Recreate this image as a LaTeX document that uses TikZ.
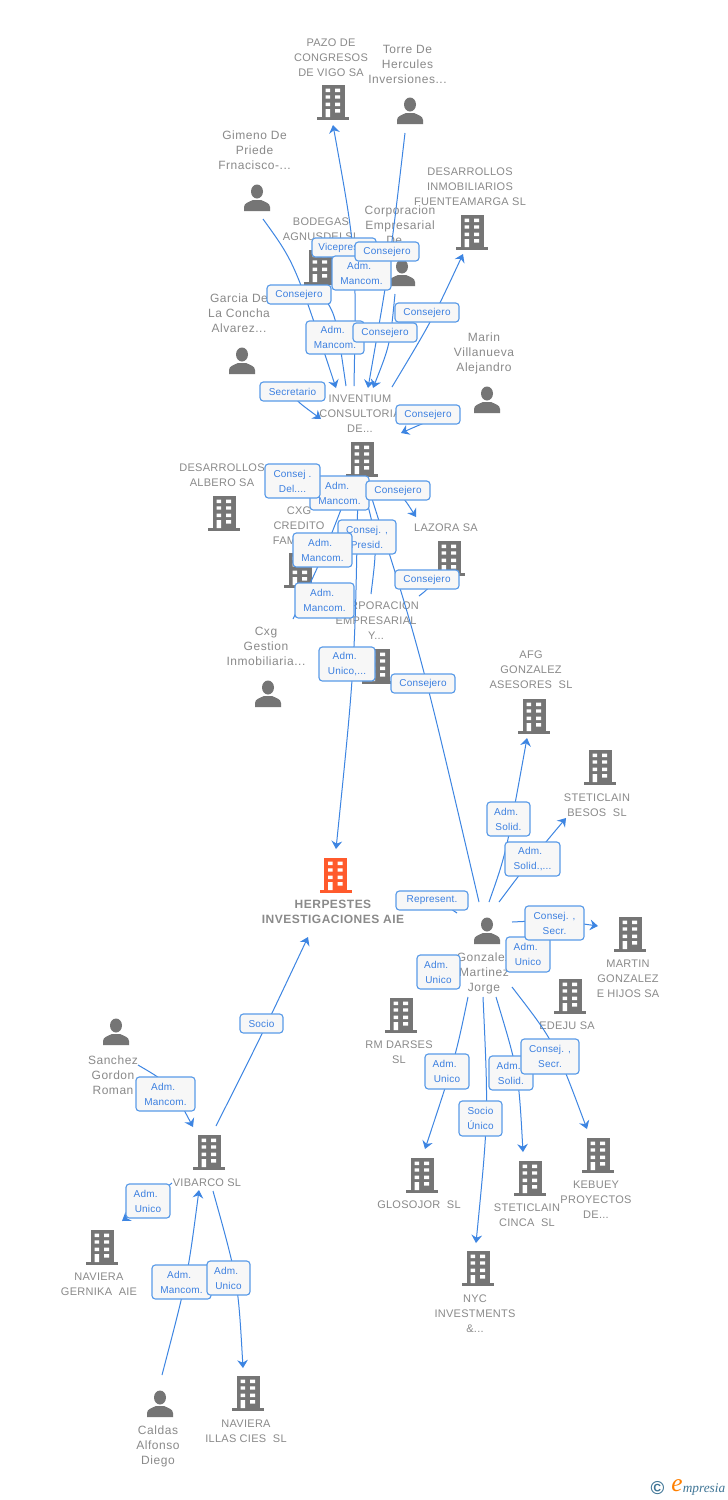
\documentclass[tikz,border=0pt]{standalone}
\usepackage{fontspec}
\setmainfont{Liberation Sans}
\newfontfamily\logofont{Liberation Serif}
\usetikzlibrary{arrows.meta,calc}
\definecolor{txtgray}{HTML}{8A8A8A}
\definecolor{icongray}{HTML}{757575}
\definecolor{hotorange}{HTML}{FF5A2C}
\definecolor{linkblue}{HTML}{3D85E2}
\definecolor{boxblue}{HTML}{5A9BE8}
\definecolor{labelblue}{HTML}{3B7FE0}
\definecolor{logoblue}{HTML}{3F7596}
\newfontfamily\firmfont[LetterSpace=2.5]{Liberation Sans}
\newfontfamily\peoplefont[LetterSpace=4.5]{Liberation Sans}
\newfontfamily\mainfontb[LetterSpace=4,BoldFont={Liberation Sans Bold}]{Liberation Sans}
\newfontfamily\tagfont[LetterSpace=2]{Liberation Sans}
\tikzset{
  x=0.75pt,y=-0.75pt,
  iconbox/.style={minimum width=24pt,minimum height=27pt,inner sep=0pt},
  caption/.style={inner sep=0pt,align=center,text=txtgray,font=\firmfont\fontsize{8.25}{11.25}\selectfont},
  pcaption/.style={inner sep=0pt,align=center,text=txtgray,font=\peoplefont\fontsize{9}{11.25}\selectfont},
  maincaption/.style={inner sep=0pt,align=center,text=txtgray,font=\mainfontb\fontsize{9}{11.25}\selectfont\bfseries},
  tag/.style={draw=boxblue,line width=0.85pt,rounded corners=2.5pt,top color=black!3,middle color=white,bottom color=black!3,
    text=labelblue,align=center,inner sep=0pt,font=\tagfont\fontsize{7.5}{11.25}\selectfont},
  conn/.style={draw=linkblue,line width=0.75pt},
  arrowed/.style={-{Stealth[length=6pt,width=8pt,inset=2pt]}},
  pics/bldg/.style={code={
    \fill (-11.5,-17) rectangle (11.5,15);
    \fill (-16,15) rectangle (16,17.5);
    \fill[white] (-7.5,-13.3) rectangle (-2.8,-10) (2,-13.3) rectangle (7,-10)
      (-7.5,-6.7) rectangle (-2.8,-3.3) (2,-6.7) rectangle (7,-3.3)
      (-7.5,0.7) rectangle (-2.8,4) (2,0.7) rectangle (7,4)
      (-7.5,7) rectangle (-2.8,15) (2,7) rectangle (7,10.7);
  }},
  pics/person/.style={code={
    \fill (0,-6.5) ellipse (6 and 7);
    \fill (-13,13) -- (-13,9) .. controls (-13,5) and (-8,4) .. (-4,2) -- (4,2) .. controls (8,4) and (13,5) .. (13,9) -- (13,13) -- cycle;
  }},
}
\newcommand\bldg[4][icongray]{\node[iconbox] (#2) at (#3,#4) {};\pic[fill=#1] at (#2) {bldg};}
\newcommand\persona[3]{\node[iconbox] (#1) at (#2,#3) {};\pic[fill=icongray] at (#1) {person};}
\newcommand\capt[4]{\node[caption] (#1) at (#2,{#3+1}) {#4};}
\newcommand\captp[4]{\node[pcaption] (#1) at (#2,#3) {#4};}
\newcommand\link[4][]{\draw[conn,#1] (#2) .. controls ($2*(#3)-0.5*(#2)-0.5*(#4)$) .. (#4);}
\newcommand\tagbox[6]{\node[tag,minimum width=#4*0.75pt-#2*0.75pt,minimum height=#5*0.75pt-#3*0.75pt] (#1) at ({(#2+#4)/2},{(#3+#5)/2}) {#6};}
\newcommand\admw{Adm.\hspace*{3.5pt}}
\begin{document}
\begin{tikzpicture}
\useasboundingbox (0,0) rectangle (728,1500);
\fill[white] (0,0) rectangle (728,1500);
% --- icons
\bldg{pazo}{333}{102}
\persona{torre}{410}{111}
\persona{gimeno}{257}{198}
\bldg{fuente}{472}{232}
\bldg{bodegas}{320}{267}
\persona{corpde}{402}{273}
\persona{garcia}{242}{361}
\persona{marin}{487}{400}
\bldg{inventium}{362}{459}
\bldg{albero}{224}{513}
\bldg{cxgcred}{300}{570}
\bldg{lazora}{449}{558}
\bldg{corpemp}{378}{666}
\persona{cxgges}{268}{694}
\bldg{afg}{534}{716}
\bldg{besos}{600}{767}
\bldg[hotorange]{herpestes}{335.5}{875}
\persona{gonzalez}{487}{931}
\bldg{martin}{630}{934}
\bldg{edeju}{570}{996}
\bldg{darses}{401}{1015}
\persona{sanchez}{116}{1032}
\bldg{vibarco}{209}{1152}
\bldg{kebuey}{598}{1155}
\bldg{glosojor}{422}{1175}
\bldg{cinca}{530}{1178}
\bldg{gernika}{102}{1247}
\bldg{nyc}{478}{1268}
\bldg{illas}{248}{1393}
\persona{caldas}{160}{1404}
% --- captions
\capt{tpazo}{331}{57}{PAZO DE\\CONGRESOS\\DE VIGO SA}
\captp{ttorre}{407.5}{64}{Torre De\\Hercules\\Inversiones...}
\captp{tgimeno}{254.5}{150}{Gimeno De\\Priede\\Frnacisco-...}
\capt{tfuente}{470}{186}{DESARROLLOS\\INMOBILIARIOS\\FUENTEAMARGA SL}
\capt{tbodegas}{321}{228.5}{BODEGAS\\AGNUSDEI SL}
\captp{tcorpde}{400}{225}{Corporacion\\Empresarial\\De...}
\captp{tgarcia}{239}{313}{Garcia De\\La Concha\\Alvarez...}
\captp{tmarin}{484}{353}{Marin\\Villanueva\\Alejandro}
\capt{tinventium}{360}{413}{INVENTIUM\\CONSULTORIA\\DE...}
\capt{talbero}{222}{474.5}{DESARROLLOS\\ALBERO SA}
\capt{tcxgcred}{299}{525}{CXG\\CREDITO\\FAMILIAR}
\capt{tlazora}{446}{527}{LAZORA SA}
\capt{tcorpemp}{376}{620}{CORPORACION\\EMPRESARIAL\\Y...}
\captp{tcxgges}{266}{646}{Cxg\\Gestion\\Inmobiliaria...}
\capt{tafg}{531}{669}{AFG\\GONZALEZ\\ASESORES\ \ SL}
\capt{tbesos}{597}{804.5}{STETICLAIN\\BESOS\ \ SL}
\node[maincaption] (therpestes) at (333,911.5) {HERPESTES\\INVESTIGACIONES AIE};
\captp{tgonzalez}{484}{973}{Gonzalez\\Martinez\\Jorge}
\capt{tmartin}{628}{978}{MARTIN\\GONZALEZ\\E HIJOS SA}
\capt{tedeju}{567}{1025}{EDEJU SA}
\capt{tdarses}{399}{1051.5}{RM DARSES\\SL}
\capt{tvibarco}{207}{1182}{VIBARCO SL}
\captp{tsanchez}{113}{1075}{Sanchez\\Gordon\\Roman}
\capt{tglosojor}{419}{1204}{GLOSOJOR\ \ SL}
\capt{tcinca}{527}{1214.5}{STETICLAIN\\CINCA\ \ SL}
\capt{tkebuey}{596}{1199}{KEBUEY\\PROYECTOS\\DE...}
\capt{tnyc}{475}{1313}{NYC\\INVESTMENTS\\\&...}
\capt{tgernika}{99}{1283.5}{NAVIERA\\GERNIKA\ \ AIE}
\capt{tillas}{246}{1430.5}{NAVIERA\\ILLAS CIES\ \ SL}
\captp{tcaldas}{158}{1446}{Caldas\\Alfonso\\Diego}
% --- connector end points
\coordinate (gimeno-o) at (263,219);
\coordinate (inv-a) at (336,388);
\coordinate (inv-b) at (346,386);
\coordinate (bod-i) at (326,300);
\coordinate (inv-c) at (354,386);
\coordinate (pazo-i) at (333,125);
\coordinate (torre-o) at (405,133);
\coordinate (inv-d) at (368,388);
\coordinate (corp-o) at (395,294);
\coordinate (inv-e) at (373,388);
\coordinate (inv-f) at (392,387);
\coordinate (fue-i) at (463,254);
\coordinate (gar-o) at (290,392);
\coordinate (inv-g) at (321,419);
\coordinate (mar-o) at (440,417);
\coordinate (inv-h) at (401,433);
\coordinate (cxg-o) at (293,619);
\coordinate (inv-i) at (352,481);
\coordinate (inv-j) at (358,484);
\coordinate (her-i) at (336,849);
\coordinate (cem-o) at (371,594);
\coordinate (inv-k) at (362,483);
\coordinate (gon-a) at (479,902);
\coordinate (inv-l) at (367,483);
\coordinate (inv-m) at (390,490);
\coordinate (laz-i) at (416,517);
\coordinate (laz-o) at (419,596);
\coordinate (laz-b) at (434,582);
\coordinate (gon-b) at (489,902);
\coordinate (afg-i) at (527,738);
\coordinate (gon-c) at (499,902);
\coordinate (bes-i) at (566,818);
\coordinate (gon-d) at (457,913);
\coordinate (rep-e) at (445,905);
\coordinate (gon-e) at (512,922);
\coordinate (mar-i) at (598,926);
\coordinate (gon-f) at (468,997);
\coordinate (glo-i) at (425,1149);
\coordinate (gon-g) at (483,997);
\coordinate (nyc-i) at (476,1243);
\coordinate (gon-h) at (496,997);
\coordinate (cin-i) at (523,1152);
\coordinate (gon-i) at (512,987);
\coordinate (keb-i) at (587,1129);
\coordinate (vib-a) at (216,1126);
\coordinate (her-j) at (308,937);
\coordinate (san-o) at (138,1065);
\coordinate (vib-b) at (193,1127);
\coordinate (vib-c) at (172,1183);
\coordinate (ger-i) at (122,1221);
\coordinate (cal-o) at (162,1375);
\coordinate (vib-d) at (199,1190);
\coordinate (vib-e) at (213,1191);
\coordinate (ill-i) at (243,1368);
% --- connectors
\link[arrowed]{gimeno-o}{297,283}{inv-a}
\link{inv-b}{336,330}{bod-i}
\link[arrowed]{inv-c}{350,255}{pazo-i}
\link[arrowed]{torre-o}{388,263}{inv-d}
\link[arrowed]{corp-o}{387,343}{inv-e}
\link[arrowed]{inv-f}{430,320}{fue-i}
\link[arrowed]{gar-o}{302,404}{inv-g}
\link[arrowed]{mar-o}{421,424.5}{inv-h}
\link[arrowed]{cxg-o}{322,555}{inv-i}
\link[arrowed]{inv-j}{351,665}{her-i}
\link[arrowed]{cem-o}{372,540}{inv-k}
\link[arrowed]{gon-a}{422,673}{inv-l}
\link[arrowed]{inv-m}{403,500}{laz-i}
\link{laz-o}{426,590}{laz-b}
\link[arrowed]{gon-b}{507,837}{afg-i}
\link[arrowed]{gon-c}{530,862}{bes-i}
\link{gon-d}{451,909}{rep-e}
\link[arrowed]{gon-e}{555,922}{mar-i}
\link[arrowed]{gon-f}{451,1065}{glo-i}
\link[arrowed]{gon-g}{484,1118}{nyc-i}
\link[arrowed]{gon-h}{514,1073}{cin-i}
\link[arrowed]{gon-i}{552,1050}{keb-i}
\link[arrowed]{vib-a}{262,1033}{her-j}
\link[arrowed]{san-o}{168,1090}{vib-b}
\link[arrowed]{vib-c}{148,1202}{ger-i}
\link[arrowed]{cal-o}{184,1280}{vib-d}
\link[arrowed]{vib-e}{233,1280}{ill-i}
% --- connector labels
\tagbox{l01}{312}{238}{376}{257}{Vicepresid.}
\tagbox{l02}{332}{256}{391}{290}{\admw\\Mancom.}
\tagbox{l03}{355}{242}{419}{261}{Consejero}
\tagbox{l04}{267}{285}{331}{304}{Consejero}
\tagbox{l05}{395}{303}{459}{322}{Consejero}
\tagbox{l06}{306}{321}{364}{354}{\admw\\Mancom.}
\tagbox{l07}{353}{323}{417}{342}{Consejero}
\tagbox{l08}{260}{382}{325}{401}{Secretario}
\tagbox{l09}{396}{405}{460}{424}{Consejero}
\tagbox{l11}{310}{476}{369}{510}{\admw\\Mancom.}
\tagbox{l10}{265}{464}{320}{498}{Consej .\\Del....}
\tagbox{l12}{366}{481}{430}{500}{Consejero}
\tagbox{l13}{338}{520}{396}{554}{Consej. ,\\Presid.}
\tagbox{l14}{293}{533}{352}{567}{\admw\\Mancom.}
\tagbox{l15}{295}{583}{354}{618}{\admw\\Mancom.}
\tagbox{l16}{395}{570}{459}{589}{Consejero}
\tagbox{l17}{319}{647}{375}{681}{\admw\\Unico,...}
\tagbox{l18}{391}{674}{455}{693}{Consejero}
\tagbox{l19}{487}{802}{530}{836}{\admw\\Solid.}
\tagbox{l20}{505}{842}{560}{876}{\admw\\Solid.,...}
\tagbox{l21}{396}{891}{468}{910}{Represent.}
\tagbox{l23}{506}{937}{550}{972}{\admw\\Unico}
\tagbox{l22}{525}{906}{584}{940}{Consej. ,\\Secr.}
\tagbox{l24}{417}{955}{460}{989}{\admw\\Unico}
\tagbox{l25}{425}{1054}{469}{1089}{\admw\\Unico}
\tagbox{l26}{489}{1056}{533}{1090}{\admw\\Solid.}
\tagbox{l27}{521}{1039}{579}{1074}{Consej. ,\\Secr.}
\tagbox{l28}{459}{1101}{502}{1136}{Socio\\Único}
\tagbox{l29}{240}{1014}{283}{1033}{Socio}
\tagbox{l30}{136}{1077}{195}{1111}{\admw\\Mancom.}
\tagbox{l31}{126}{1184}{170}{1218}{\admw\\Unico}
\tagbox{l32}{152}{1265}{211}{1299}{\admw\\Mancom.}
\tagbox{l33}{207}{1261}{250}{1295}{\admw\\Unico}
% --- logo
\node[inner sep=0pt,text=logoblue,font=\bfseries\fontsize{14}{14}\selectfont] (copy) at (657.5,1488.5) {©};
\node[inner sep=0pt,text=orange,font=\logofont\itshape\fontsize{19}{19}\selectfont] (logoe) at (677,1486) {e};
\node[inner sep=0pt,text=logoblue,font=\logofont\itshape\fontsize{10}{10}\selectfont] (logot) at (704,1489) {mpresia};
\end{tikzpicture}
\end{document}
